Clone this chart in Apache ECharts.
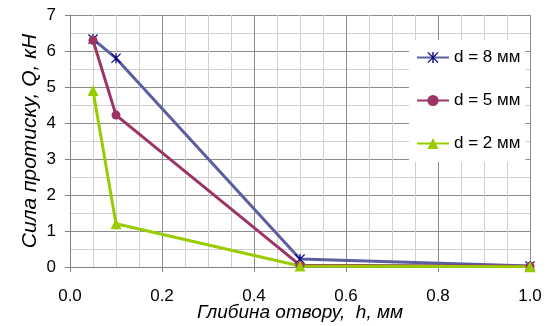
<!DOCTYPE html>
<html>
<head>
<meta charset="utf-8">
<script src="https://cdn.jsdelivr.net/npm/echarts@6/dist/echarts.min.js"></script>
<style>html,body{margin:0;padding:0;background:#fff;}#c{width:551px;height:326px;}</style>
</head>
<body>
<div id="c"></div>
<script>
var depths = [0.05, 0.1, 0.5, 1.0];
var d8 = [6.33, 5.8, 0.22, 0.03];
var d5 = [6.3, 4.22, 0.05, 0.02];
var d2 = [4.9, 1.2, 0.03, 0.01];
var seriesNames = ['d = 8 мм', 'd = 5 мм', 'd = 2 мм'];
var xTitle = 'Глибина отвору,  h, мм';
var yTitle = 'Сила протиску, Q, кН';

function pairs(ys){ return depths.map(function(x,i){ return [x, ys[i]]; }); }
var star = 'path://M4.4,0 L5.6,0 L5.6,10 L4.4,10 Z M0,0.8 L0.8,0 L10,9.2 L9.2,10 Z M9.2,0 L10,0.8 L0.8,10 L0,9.2 Z';
var font = 'Liberation Sans, Arial, sans-serif';
var chart = echarts.init(document.getElementById('c'), null, {renderer:'canvas'});
chart.setOption({
  animation:false,
  backgroundColor:'#fff',
  grid:{left:70, right:21, top:15, bottom:59, containLabel:false, outerBoundsMode:'none'},
  legend:{
    orient:'vertical', left:409, top:40,
    padding:[9,5,10,7], itemWidth:32, itemHeight:14, itemGap:26,
    backgroundColor:'#fff',
    textStyle:{fontFamily:font, fontSize:17, color:'#000'},
    data:seriesNames
  },
  xAxis:{
    type:'value', min:0, max:1, interval:0.2,
    name:xTitle, nameLocation:'middle', nameGap:36, nameMoveOverlap:false,
    nameTextStyle:{fontFamily:font, fontSize:19, fontStyle:'italic', color:'#000'},
    axisLine:{show:true, lineStyle:{color:'#808080', width:1}},
    axisTick:{show:true, length:5, lineStyle:{color:'#808080'}},
    axisLabel:{fontFamily:font, fontSize:17, color:'#000', margin:21, formatter:function(v){return v.toFixed(1);}},
    splitLine:{show:true, lineStyle:{color:'#8c8c8c', width:1}},
    minorTick:{show:false, splitNumber:4},
    minorSplitLine:{show:true, lineStyle:{color:'#cfcfcf', width:1}}
  },
  yAxis:{
    type:'value', min:0, max:7, interval:1,
    name:yTitle, nameLocation:'middle', nameGap:29, nameMoveOverlap:false,
    nameTextStyle:{fontFamily:font, fontSize:21, fontStyle:'italic', color:'#000'},
    axisLine:{show:true, lineStyle:{color:'#808080', width:1}},
    axisTick:{show:true, length:5, lineStyle:{color:'#808080'}},
    axisLabel:{fontFamily:font, fontSize:17, color:'#000', margin:14},
    splitLine:{show:true, lineStyle:{color:'#8c8c8c', width:1}},
    minorTick:{show:false, splitNumber:2},
    minorSplitLine:{show:true, lineStyle:{color:'#cfcfcf', width:1}}
  },
  series:[
    {name:seriesNames[0], type:'line', data:pairs(d8), symbol:star, symbolSize:10,
     lineStyle:{color:'#5b5ea0', width:3}, itemStyle:{color:'#000080'}, color:'#5b5ea0'},
    {name:seriesNames[1], type:'line', data:pairs(d5), symbol:'circle', symbolSize:9,
     lineStyle:{color:'#9c3466', width:3}, itemStyle:{color:'#9c3466'}, color:'#9c3466'},
    {name:seriesNames[2], type:'line', data:pairs(d2), symbol:'triangle', symbolSize:11,
     lineStyle:{color:'#99cc00', width:3}, itemStyle:{color:'#99cc00'}, color:'#99cc00'}
  ]
});
</script>
</body>
</html>
